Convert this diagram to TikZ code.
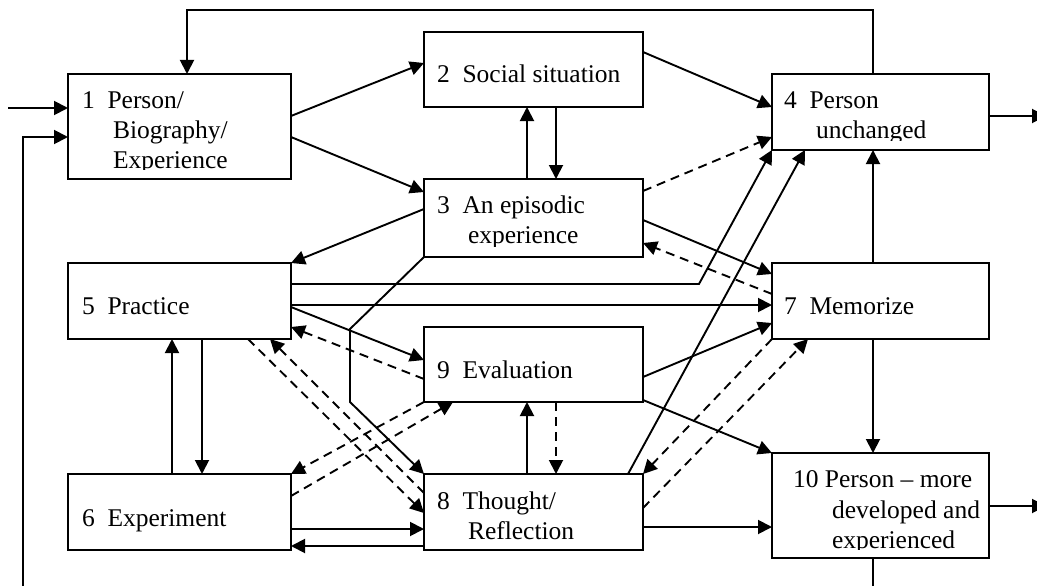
\documentclass[tikz,border=0pt]{standalone}
\usepackage{fontspec}
\setmainfont{Liberation Serif}
\usetikzlibrary{arrows.meta}
\tikzset{
  box/.style={draw, line width=1.9pt, rectangle, inner sep=0pt, outer sep=0pt, anchor=north west},
  lbl/.style={anchor=base west, inner sep=0pt, outer sep=0pt, font=\fontsize{25.5}{30}\selectfont},
  link/.style={line width=1.9pt, -{Triangle[length=14pt,width=14pt]}},
  dlink/.style={link, dash pattern=on 9pt off 6pt},
}
\begin{document}
\begin{tikzpicture}[x=1pt, y=-1pt]
\useasboundingbox (0,0) rectangle (1037,586);

% boxes
\node[box, minimum width=223pt, minimum height=105pt] (b1) at (68,74) {};
\node[box, minimum width=219pt, minimum height=75pt] (b2) at (424,32) {};
\node[box, minimum width=219pt, minimum height=78pt] (b3) at (424,179) {};
\node[box, minimum width=217pt, minimum height=76pt] (b4) at (772,74) {};
\node[box, minimum width=223pt, minimum height=76pt] (b5) at (68,263) {};
\node[box, minimum width=223pt, minimum height=76pt] (b6) at (68,474) {};
\node[box, minimum width=217pt, minimum height=76pt] (b7) at (772,263) {};
\node[box, minimum width=219pt, minimum height=76pt] (b8) at (424,474) {};
\node[box, minimum width=219pt, minimum height=75pt] (b9) at (424,327) {};
\node[box, minimum width=217pt, minimum height=105pt] (b10) at (772,453) {};

% labels (long ones are cut off at the lower text margin)
\begin{scope}
  \clip (b1.north west) rectangle (b1.east |- 0,169);
  \node[lbl] (t1a) at (82,109) {1\enspace Person/};
  \node[lbl] (t1b) at (113,138) {Biography/};
  \node[lbl] (t1c) at (113,168) {Experience};
\end{scope}
\node[lbl] (t2) at (437,83) {2\enspace Social situation};
\begin{scope}
  \clip (b3.north west) rectangle (b3.east |- 0,246);
  \node[lbl] (t3a) at (437,213) {3\enspace An episodic};
  \node[lbl] (t3b) at (468,243) {experience};
\end{scope}
\begin{scope}
  \clip (b4.north west) rectangle (b4.east |- 0,140);
  \node[lbl] (t4a) at (784,109) {4\enspace Person};
  \node[lbl] (t4b) at (816,138) {unchanged};
\end{scope}
\node[lbl] (t5) at (82,314) {5\enspace Practice};
\node[lbl] (t6) at (82,526) {6\enspace Experiment};
\node[lbl] (t7) at (784,314) {7\enspace Memorize};
\node[lbl] (t8a) at (437,509) {8\enspace Thought/};
\node[lbl] (t8b) at (468,539) {Reflection};
\node[lbl] (t9) at (437,378) {9\enspace Evaluation};
\begin{scope}
  \clip (b10.north west) rectangle (b10.east |- 0,549);
  \node[lbl] (t10a) at (793,487) {10 Person -- more};
  \node[lbl] (t10b) at (832,518) {developed and};
  \node[lbl] (t10c) at (832,548) {experienced};
\end{scope}

% entry, exits and feedback loops
\coordinate (in) at (8,108);
\coordinate (out4) at (1046,116);
\coordinate (out10) at (1046,506);
\draw[link] (in) -- (b1.west |- in);
\draw[link] (b4.east |- out4) -- (out4);
\draw[link] (b10.east |- out10) -- (out10);
\draw[link] (b4.north -| 873,0) |- (187,10) -- (b1.north -| 187,0);
\draw[link] (b10.south -| 873,0) |- (23,600) |- (b1.west |- 0,137);

% solid connectors
\draw[link] (b1.east |- 0,116) -- (b2.west |- 0,63);
\draw[link] (b1.east |- 0,137) -- (b3.west |- 0,192);
\draw[link] (b2.east |- 0,52) -- (b4.west |- 0,107);
\draw[link] (b3.north -| 527,0) -- (b2.south -| 527,0);
\draw[link] (b2.south -| 556,0) -- (b3.north -| 556,0);
\draw[link] (b3.west |- 0,209) -- (b5.north east);
\draw[link] (b3.east |- 0,220) -- (b7.west |- 0,274);
\draw[link] (b5.east |- 0,284) -- (699,284) -- (b4.south west);
\draw[link] (b5.east |- 0,305) -- (b7.west |- 0,305);
\draw[link] (b5.east |- 0,307) -- (b9.west |- 0,360);
\draw[link] (b3.south west) -- (350,329) -- (350,402) -- (b8.north west);
\draw[link] (b6.north -| 172,0) -- (b5.south -| 172,0);
\draw[link] (b5.south -| 202,0) -- (b6.north -| 202,0);
\draw[link] (b6.east |- 0,529) -- (b8.west |- 0,529);
\draw[link] (b8.west |- 0,546) -- (b6.east |- 0,546);
\draw[link] (b8.north -| 527,0) -- (b9.south -| 527,0);
\draw[link] (b9.east |- 0,377) -- (b7.west |- 0,323);
\draw[link] (b9.east |- 0,400) -- (b10.north west);
\draw[link] (b8.east |- 0,527) -- (b10.west |- 0,527);
\draw[link] (b8.north -| 628,0) -- (b4.south -| 805,0);
\draw[link] (b7.north -| 873,0) -- (b4.south -| 873,0);
\draw[link] (b7.south -| 873,0) -- (b10.north -| 873,0);

% dashed connectors
\draw[dlink] (b3.east |- 0,191) -- (b4.west |- 0,137);
\draw[dlink] (b7.west |- 0,294) -- (b3.east |- 0,243);
\draw[dlink] (b9.west |- 0,379) -- (b5.east |- 0,327);
\draw[dlink] (b5.south -| 248,0) -- (b8.west |- 0,513);
\draw[dlink] (b8.west |- 0,493) -- (b5.south -| 270,0);
\draw[dlink] (b9.south west) -- (b6.north east);
\draw[dlink] (b6.east |- 0,496) -- (b9.south -| 453,0);
\draw[dlink] (b9.south -| 556,0) -- (b8.north -| 556,0);
\draw[dlink] (b7.south west) -- (b8.north east);
\draw[dlink] (b8.east |- 0,508) -- (b7.south -| 808,0);
\end{tikzpicture}
\end{document}
